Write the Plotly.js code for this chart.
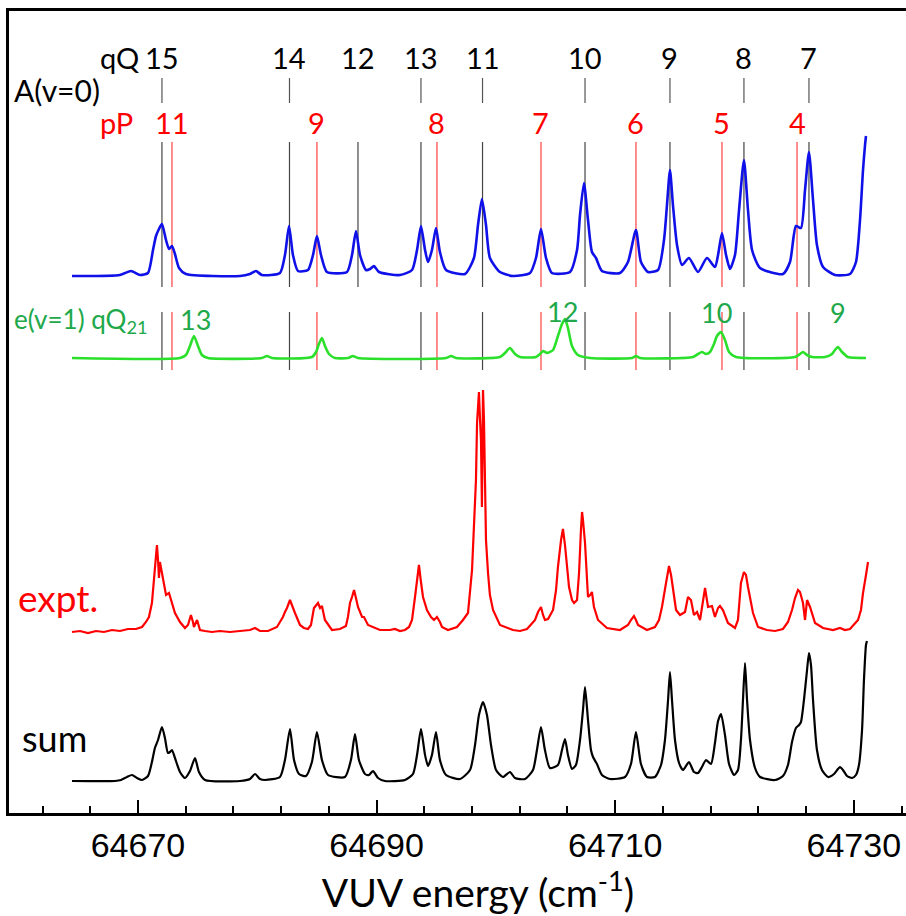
<!DOCTYPE html>
<html><head><meta charset="utf-8">
<script src="https://cdn.plot.ly/plotly-3.0.1.min.js"></script>
<style>html,body{margin:0;padding:0;overflow:hidden;background:#fff}#chart{width:960px;height:916px}</style>
</head><body><div id="chart"></div>
<script>
// ---- A(v=0) simulated (blue) ----
const blueX = [64664.47,64668.49,64669.41,64670.17,64670.84,64671.26,64671.51,64671.76,64672.01,64672.35,
64672.60,64672.85,64673.10,64673.44,64674.02,64678.55,64679.39,64679.89,64680.39,64681.90,
64682.32,64682.66,64682.99,64683.41,64684.25,64684.67,64685.00,64685.34,64685.84,64687.52,
64687.94,64688.27,64688.61,64689.11,64689.45,64689.78,64690.20,64691.96,64692.97,64693.39,
64693.72,64694.06,64694.31,64694.64,64694.98,64695.31,64695.82,64697.41,64698.16,64698.50,
64698.83,64699.17,64699.50,64700.34,64701.43,64702.86,64703.36,64703.78,64704.20,64704.70,
64706.21,64706.80,64707.05,64707.38,64707.72,64708.05,64708.39,64708.89,64710.40,64711.07,
64711.74,64712.16,64712.75,64713.59,64714.09,64714.34,64714.59,64714.84,64715.18,64715.60,
64716.18,64716.94,64717.69,64718.36,64718.62,64718.95,64719.29,64719.62,64720.04,64720.38,
64720.79,64721.13,64721.47,64722.14,64724.06,64724.65,64725.15,64725.57,64725.91,64726.24,
64726.58,64726.91,64727.42,64728.42,64729.68,64730.18,64730.52,64730.77,64730.94,64731.02];
const blueI = [0,1,5,1,3,26,40,47,52,36,
27,30,22,8,2,0,2,5,1,3,
21,50,21,5,6,21,40,21,4,4,
21,45,21,6,7,10,4,1,6,26,
50,26,14,26,48,24,6,2,18,51,
77,51,18,4,0,3,18,47,18,3,
4,26,61,93,56,24,18,5,3,14,
46,14,4,6,36,71,106,71,31,11,
18,4,18,9,21,43,21,7,21,66,
116,66,26,8,2,14,50,48,86,124,
76,31,9,1,2,14,56,106,131,140];

// ---- e(v=1) qQ21 simulated (green) ----
const greenX = [64664.47,64673.52,64674.02,64674.36,64674.69,64675.03,64675.36,64675.87,64680.39,64680.81,
64681.23,64684.59,64684.92,64685.17,64685.42,64685.67,64686.01,64686.51,64687.60,64688.02,
64688.44,64695.82,64696.24,64696.66,64700.34,64700.76,64701.18,64701.60,64702.02,64703.36,
64703.70,64703.95,64704.28,64704.79,64705.20,64705.54,64705.79,64706.04,64706.38,64706.88,
64707.89,64711.41,64711.74,64712.08,64716.52,64716.94,64717.27,64717.61,64717.95,64718.28,
64718.53,64718.87,64719.20,64719.54,64720.12,64725.07,64725.49,64725.74,64726.08,64726.50,
64727.58,64728.17,64728.42,64728.67,64729.01,64729.51,64731.02];
const greenI = [0,0,3,12,22,12,3,0,0,2,
0,1,6,14,20,12,4,0,0,2,
0,0,2,0,1,5,10,4,1,1,
4,7,5,8,22,34,39,30,12,3,
0,0,2,0,1,4,6,4,6,14,
22,26,18,6,1,1,4,6,3,1,
1,4,8,11,6,1,0];

// ---- experiment (red) ----
const exptX = [64664.47,64665.14,64665.81,64666.48,64667.15,64667.82,64668.49,64669.16,64669.83,64670.34,
64670.67,64670.92,64671.17,64671.34,64671.51,64671.59,64671.68,64671.76,64671.84,64672.01,
64672.18,64672.35,64672.60,64672.85,64673.10,64673.52,64673.94,64674.19,64674.44,64674.61,
64674.69,64674.95,64675.20,64675.62,64676.20,64676.87,64677.71,64678.55,64679.39,64679.81,
64680.23,64680.90,64681.32,64681.65,64681.90,64682.15,64682.32,64682.49,64682.74,64682.91,
64683.16,64683.58,64683.91,64684.25,64684.50,64684.75,64684.92,64685.09,64685.26,64685.42,
64685.67,64685.93,64686.26,64686.93,64687.43,64687.60,64687.77,64687.94,64688.11,64688.27,
64688.44,64688.78,64688.94,64689.28,64689.87,64690.28,64691.12,64691.54,64691.96,64692.38,
64692.72,64692.97,64693.22,64693.39,64693.55,64693.72,64693.89,64694.22,64694.56,64694.81,
64695.06,64695.31,64695.48,64695.98,64696.74,64697.24,64697.66,64698.00,64698.16,64698.33,
64698.42,64698.50,64698.58,64698.67,64698.75,64698.83,64698.92,64699.00,64699.09,64699.17,
64699.34,64699.50,64699.76,64700.34,64701.43,64702.02,64702.61,64703.28,64703.53,64703.78,
64703.95,64704.11,64704.37,64704.79,64705.04,64705.20,64705.46,64705.62,64705.79,64705.88,
64706.13,64706.38,64706.55,64706.80,64706.97,64707.13,64707.22,64707.30,64707.47,64707.72,
64707.89,64708.05,64708.22,64708.56,64709.31,64710.40,64711.07,64711.32,64711.57,64711.74,
64711.91,64712.66,64713.33,64713.67,64713.92,64714.26,64714.51,64714.68,64714.84,64715.10,
64715.43,64715.85,64716.10,64716.35,64716.60,64716.86,64717.11,64717.36,64717.53,64717.78,
64718.11,64718.36,64718.62,64718.78,64719.03,64719.45,64720.04,64720.29,64720.54,64720.79,
64720.96,64721.13,64721.55,64721.97,64722.72,64723.39,64724.06,64724.48,64724.82,64725.07,
64725.32,64725.49,64725.74,64725.91,64726.08,64726.33,64726.75,64727.42,64728.26,64728.84,
64729.26,64729.68,64730.10,64730.35,64730.60,64730.77,64731.02,64731.19];
const exptI = [0,1,-1,1,0,2,1,3,3,5,
10,15,29,52,75,87,72,54,70,59,
52,37,39,30,19,10,4,7,17,10,
5,12,2,1,0,1,0,1,2,4,
1,1,3,5,10,15,20,24,32,26,
19,7,4,3,7,24,26,29,24,26,
12,7,2,3,6,15,29,35,42,34,
25,15,15,7,4,2,2,3,1,2,
5,12,35,50,67,50,35,22,15,12,
15,10,5,2,5,12,19,62,99,152,
209,232,240,212,192,125,242,212,132,92,
59,37,22,7,2,1,3,12,20,25,
17,12,13,22,42,65,92,103,87,75,
45,32,29,32,59,102,120,112,89,35,
37,40,25,12,4,2,7,12,16,12,
7,2,5,12,25,49,66,57,44,22,
17,20,35,32,17,20,12,32,44,25,
26,15,24,26,22,9,4,12,49,60,
57,45,19,5,2,1,3,10,22,34,
42,40,29,12,32,25,9,4,2,4,
2,3,8,12,22,39,57,70];

// ---- sum (black) ----
const sumX = [64664.47,64668.07,64668.58,64669.08,64669.50,64669.92,64670.34,64670.84,64671.17,64671.42,
64671.68,64672.01,64672.26,64672.51,64672.68,64672.85,64673.10,64673.52,64673.94,64674.36,
64674.78,64675.11,64675.62,64678.55,64679.39,64679.81,64680.23,64680.65,64681.90,64682.32,
64682.74,64683.08,64683.50,64684.08,64684.58,64685.00,64685.42,64685.93,64687.35,64687.85,
64688.19,64688.52,64689.03,64689.36,64689.70,64690.12,64690.70,64692.38,64693.05,64693.39,
64693.72,64694.06,64694.31,64694.64,64694.98,64695.31,64695.82,64696.99,64697.83,64698.25,
64698.58,64698.92,64699.25,64699.59,64700.01,64700.59,64701.18,64701.60,64702.44,64703.11,
64703.44,64703.78,64704.11,64704.53,64705.20,64705.54,64705.79,64706.04,64706.38,64706.71,
64707.05,64707.30,64707.47,64707.72,64707.97,64708.14,64708.47,64708.89,64709.56,64710.82,
64711.32,64711.74,64712.16,64712.66,64713.33,64713.84,64714.17,64714.43,64714.59,64714.76,
64715.01,64715.35,64715.68,64716.18,64716.60,64716.94,64717.27,64717.61,64718.03,64718.36,
64718.62,64718.87,64719.20,64719.54,64719.96,64720.29,64720.54,64720.71,64720.88,64721.05,
64721.30,64721.72,64722.14,64723.39,64724.06,64724.48,64724.82,64725.15,64725.41,64725.57,
64725.82,64726.08,64726.24,64726.41,64726.58,64726.91,64727.33,64727.84,64728.34,64728.67,
64728.84,64729.09,64729.43,64729.85,64730.18,64730.43,64730.69,64730.85,64731.02,64731.10];
const sumI = [0,0,1,4,6,3,1,5,19,33,
41,54,43,28,29,31,23,9,3,10,
23,9,1,0,2,7,2,1,4,21,
52,21,7,5,19,49,21,6,4,21,
47,21,7,6,10,3,0,1,7,26,
52,26,15,26,49,21,6,2,11,36,
66,79,66,36,11,4,9,3,2,11,
31,54,31,13,16,31,42,26,12,16,
41,71,94,61,31,24,17,6,2,4,
17,49,17,4,4,16,41,81,109,81,
41,18,11,19,9,8,14,21,17,38,
60,67,46,17,6,11,41,81,118,81,
41,13,4,1,5,16,39,53,56,59,
81,111,128,116,81,31,11,4,7,12,
14,11,5,3,6,16,51,101,136,140];

// ---- assignment lines and labels ----
const qQpos = [64672.01,64682.70,64688.44,64693.72,64698.88,64707.47,64714.59,64720.79,64726.24];
const qQlab = ['15','14','12','13','11','10','9','8','7'];
const qQinGreen = [1,1,0,1,1,1,1,1,1];
const pPpos = [64672.85,64685.00,64695.06,64703.78,64711.74,64718.95,64725.24];
const pPlab = ['11','9','8','7','6','5','4'];
const eLab = ['13','12','10','9'];
const eLabPos = [64674.78,64705.62,64718.53,64728.67];
const eLabY = [494,502,501,501];

const OFF = {blue:537, green:455, expt:181, sum:32};
const Y = {tickTop:735, tickBot:710, bTop:671, bBot:526, gTop:501, gBot:443,
           qRow:756, aRow:723, pRow:691, gRow:493, exptRow:216, sumRow:75};

const BLUE='#1010e8', GREEN='#2be02b', GTEXT='#20a84a', RED='#ff0000', BLK='#000000';

function spec(x, I, off, color, width, shape){
  return {type:'scatter', mode:'lines', x:x, y:I.map(v=>v+off), hoverinfo:'skip', showlegend:false,
    line:{color:color, width:width, shape:shape, smoothing:0.6}};
}
function vl(xs, keep, y0, y1, color){
  const x=[], y=[];
  xs.forEach((v,i)=>{ if(keep && !keep[i]) return; x.push(v,v,null); y.push(y0,y1,null); });
  return {type:'scatter', mode:'lines', x:x, y:y, hoverinfo:'skip', showlegend:false,
    line:{color:color, width:1.2}};
}

const data = [
  vl(qQpos, qQinGreen, Y.tickTop, Y.tickBot, '#555555'),
  vl(qQpos, null, Y.bTop, Y.bBot, '#444444'),
  vl(pPpos, null, Y.bTop, Y.bBot, '#ff4040'),
  vl(qQpos, qQinGreen, Y.gTop, Y.gBot, '#444444'),
  vl(pPpos, null, Y.gTop, Y.gBot, '#ff4040'),
  spec(blueX, blueI, OFF.blue, BLUE, 2.6, 'spline'),
  spec(greenX, greenI, OFF.green, GREEN, 2.6, 'spline'),
  spec(exptX, exptI, OFF.expt, RED, 2.2, 'linear'),
  spec(sumX, sumI, OFF.sum, BLK, 2.2, 'spline')
];

const LF = 'Lato, "Open Sans", sans-serif';
function ann(x, y, text, color, size, xanchor){
  return {x:x, y:y, xref:'x', yref:'y', text:text, showarrow:false, xanchor:xanchor||'center', yanchor:'middle',
    font:{family:LF, size:size, color:color}};
}
const annotations = [];
annotations.push(ann(64668.49, Y.qRow, 'qQ', BLK, 29));
qQpos.forEach((p,i)=>annotations.push(ann(p, Y.qRow, qQlab[i], BLK, 29)));
annotations.push(ann(64659.40, Y.aRow, 'A(v=0)', BLK, 30, 'left'));
annotations.push(ann(64668.24, Y.pRow, 'pP', RED, 29));
pPpos.forEach((p,i)=>annotations.push(ann(p, Y.pRow, pPlab[i], RED, 29)));
annotations.push(ann(64659.40, Y.gRow, 'e(v=1) qQ<sub>21</sub>', GTEXT, 26, 'left'));
eLabPos.forEach((p,i)=>annotations.push(ann(p, eLabY[i], eLab[i], GTEXT, 27)));
annotations.push(ann(64663.29, Y.exptRow, 'expt.', RED, 37));
annotations.push(ann(64663.04, Y.sumRow, 'sum', BLK, 36));

const layout = {
  width:960, height:916,
  margin:{l:9, r:13, t:11, b:103, pad:0},
  paper_bgcolor:'#ffffff', plot_bgcolor:'#ffffff',
  font:{family:LF, color:'#000'},
  showlegend:false,
  xaxis:{range:[64659.19, 64737.81], tickmode:'linear', tick0:64670, dtick:20, tickformat:'d',
    ticks:'inside', ticklen:13, tickwidth:2, tickcolor:'#000',
    minor:{dtick:4, tick0:64670, ticks:'inside', ticklen:7, tickwidth:2, tickcolor:'#000', showgrid:false},
    showline:true, linewidth:3, linecolor:'#000', mirror:true, showgrid:false, zeroline:false,
    tickfont:{family:'"Liberation Sans", Arial, sans-serif', size:34, color:'#000'},
    title:{text:'VUV energy (cm<sup>-1</sup>)', font:{family:LF, size:39, color:'#000'}, standoff:8}},
  yaxis:{range:[0,802], showline:true, linewidth:3, linecolor:'#000', mirror:true,
    ticks:'', showticklabels:false, showgrid:false, zeroline:false},
  annotations:annotations
};
Plotly.newPlot('chart', data, layout, {staticPlot:true, displayModeBar:false});
</script></body></html>
